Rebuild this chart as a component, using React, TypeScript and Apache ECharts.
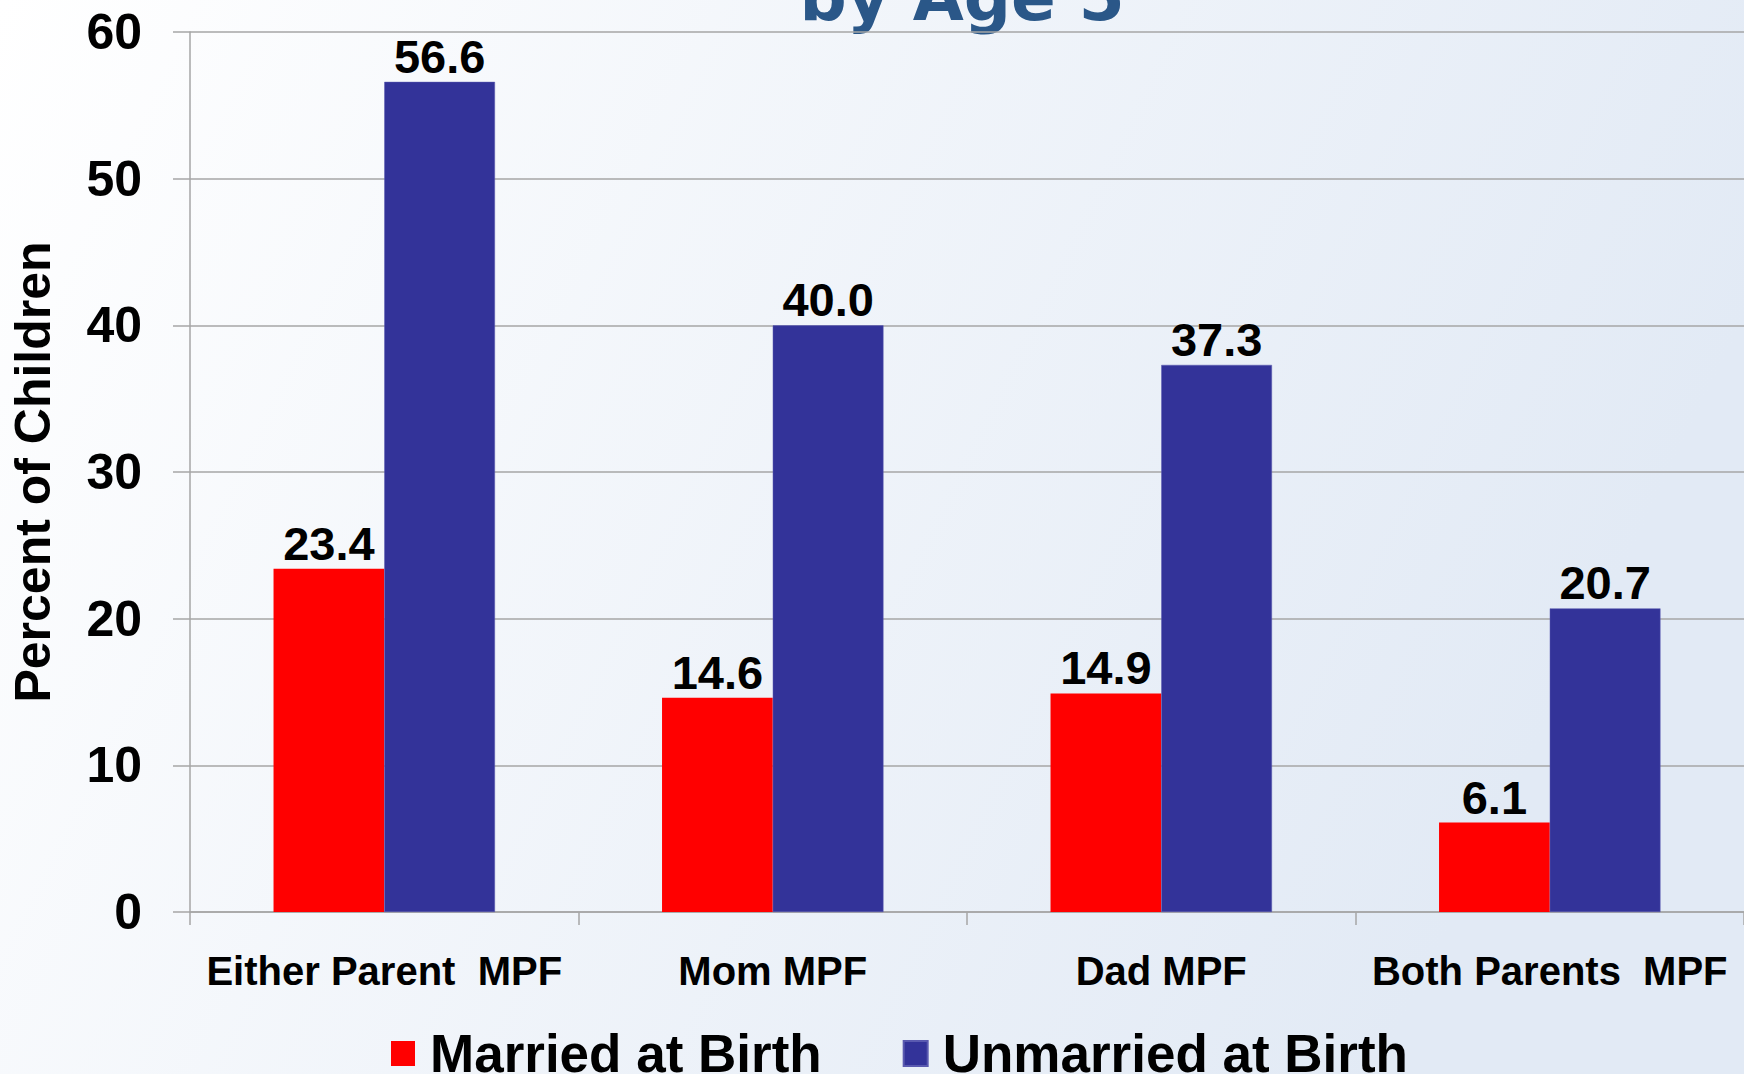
import React, { useEffect, useRef } from "react";
import * as echarts from "echarts";

const categories = ["Either Parent  MPF", "Mom MPF", "Dad MPF", "Both Parents  MPF"];
const seriesNames = ["Married at Birth", "Unmarried at Birth"];
const married = [23.4, 14.6, 14.9, 6.1];
const unmarried = [56.6, 40.0, 37.3, 20.7];
const yMin = 0;
const yMax = 60;
const yInterval = 10;
const titleText = "by Age 5";
const yAxisName = "Percent of Children";

const FONT = "'Liberation Sans', Arial, Helvetica, sans-serif";

export default function App() {
  const ref = useRef<HTMLDivElement>(null);
  useEffect(() => {
    if (!ref.current) return;
    const chart = echarts.init(ref.current, null, { renderer: "svg" });
    const label = {
      show: true,
      position: "top",
      distance: 2,
      color: "#000",
      fontFamily: FONT,
      fontWeight: "bold",
      fontSize: 47,
      formatter: (p: any) => Number(p.value).toFixed(1),
    };
    chart.setOption({
      animation: false,
      backgroundColor: {
        type: "linear",
        x: 0,
        y: 0,
        x2: 1,
        y2: 0.3,
        colorStops: [
          { offset: 0, color: "#FFFFFF" },
          { offset: 1, color: "#E2EAF5" },
        ],
      },
      textStyle: { fontFamily: FONT },
      graphic: [
        {
          type: "text",
          x: 962,
          y: -3,
          style: {
            text: titleText,
            align: "center",
            verticalAlign: "middle",
            font: "bold 66px 'DejaVu Sans', Verdana, sans-serif",
            fill: "#2A5788",
          },
        },
      ],
      legend: {
        data: seriesNames,
        left: 391,
        top: 1027,
        padding: 0,
        itemWidth: 24,
        itemHeight: 25,
        itemGap: 81,
        icon: "rect",
        textStyle: {
          fontFamily: FONT,
          fontWeight: "bold",
          fontSize: 53,
          color: "#000",
          padding: [0, 0, 0, 10],
        },
      },
      grid: { left: 190, right: -6, top: 32, bottom: 162, containLabel: false },
      xAxis: {
        type: "category",
        data: categories,
        axisLine: { show: true, lineStyle: { color: "#A6A6A6", width: 1.5 } },
        axisTick: { show: true, length: 13, lineStyle: { color: "#A6A6A6", width: 1.5 } },
        axisLabel: {
          margin: 39,
          color: "#000",
          fontFamily: FONT,
          fontWeight: "bold",
          fontSize: 40,
          interval: 0,
        },
      },
      yAxis: {
        type: "value",
        min: yMin,
        max: yMax,
        interval: yInterval,
        name: yAxisName,
        nameLocation: "middle",
        nameRotate: 90,
        nameGap: 132,
        nameTextStyle: {
          color: "#000",
          fontFamily: FONT,
          fontWeight: "bold",
          fontSize: 50,
        },
        axisLine: { show: true, lineStyle: { color: "#A6A6A6", width: 1.5 } },
        axisTick: { show: true, length: 17, lineStyle: { color: "#A6A6A6", width: 1.5 } },
        splitLine: { show: true, lineStyle: { color: "#A6A6A6", width: 1.5 } },
        axisLabel: {
          margin: 48,
          color: "#000",
          fontFamily: FONT,
          fontWeight: "bold",
          fontSize: 50,
        },
      },
      series: [
        {
          name: seriesNames[0],
          type: "bar",
          data: married,
          itemStyle: { color: "#FF0000" },
          barGap: "0%",
          barCategoryGap: "43%",
          label,
        },
        {
          name: seriesNames[1],
          type: "bar",
          data: unmarried,
          itemStyle: { color: "#333399", borderColor: "#5A5AB0", borderWidth: 0.5 },
          barGap: "0%",
          barCategoryGap: "43%",
          label,
        },
      ],
    });
    return () => chart.dispose();
  }, []);
  return (
    <div
      ref={ref}
      style={{ position: "fixed", left: 0, top: 0, width: 1744, height: 1074 }}
    />
  );
}
